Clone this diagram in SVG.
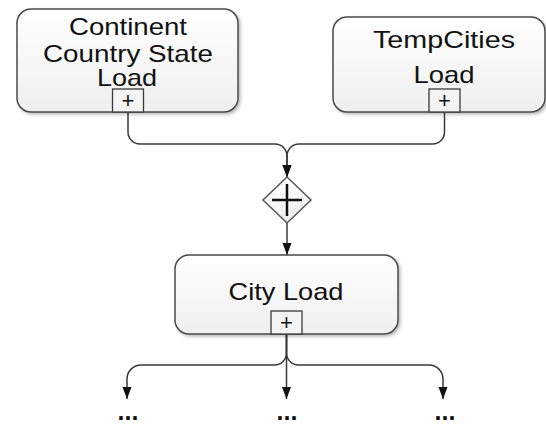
<svg xmlns="http://www.w3.org/2000/svg" width="546" height="425" viewBox="0 0 546 425">
  <style>
    .task { fill: url(#taskFill); stroke: #4a4a4a; stroke-width: 1.5; filter: url(#shadow); }
    .marker { fill: #f4f4f4; stroke: #3a3a3a; stroke-width: 1.3; }
    .label { font-family: "Liberation Sans", Arial, Helvetica, sans-serif; font-size: 24px; fill: #111; text-anchor: middle; }
    .plus { font-family: "Liberation Sans", Arial, sans-serif; font-size: 22px; fill: #111; text-anchor: middle; }
    .dots { font-family: "Liberation Sans", Arial, sans-serif; font-size: 25px; font-weight: bold; fill: #111; text-anchor: middle; }
    .flow { fill: none; stroke: #3a3a3a; stroke-width: 1.5; marker-end: url(#arrow); }
    .gateway { fill: url(#taskFill); stroke: #555; stroke-width: 1.5; }
    .gateway-cross { stroke: #111; stroke-width: 2.5; fill: none; }
  </style>
  <defs>
    <linearGradient id="taskFill" x1="0" y1="0" x2="0" y2="1">
      <stop offset="0" stop-color="#ffffff"/>
      <stop offset="1" stop-color="#efefef"/>
    </linearGradient>
    <filter id="shadow" x="-10%" y="-10%" width="125%" height="130%">
      <feDropShadow dx="2" dy="2" stdDeviation="1.5" flood-color="#000" flood-opacity="0.25"/>
    </filter>
    <marker id="arrow" markerWidth="12" markerHeight="16" refX="16" refY="6" viewBox="0 0 16 12" orient="auto" markerUnits="userSpaceOnUse">
      <path d="M0,0 L16,6 L0,12 Z" fill="#111"/>
    </marker>
  </defs>

  <!-- sequence flows -->
  <g id="connectors">
    <path class="flow" d="M128,112 V132 A12,12 0 0 0 140,144 H275 A12,12 0 0 1 287,156 V177"/>
    <path class="flow" d="M444.5,112 V132 A12,12 0 0 1 432.5,144 H299 A12,12 0 0 0 287,156 V177"/>
    <path class="flow" d="M287,223 V255"/>
    <path class="flow" d="M286.5,334 V353 A12,12 0 0 1 274.5,365 H141 A14,14 0 0 0 127,379 V399"/>
    <path class="flow" d="M286.5,334 V399"/>
    <path class="flow" d="M286.5,334 V353 A12,12 0 0 0 298.5,365 H429 A14,14 0 0 1 443,379 V399"/>
  </g>

  <g id="continent-country-state-load">
    <rect class="task" x="17" y="9" width="221" height="103" rx="14" ry="14"/>
    <text class="label" x="128" y="35" textLength="118" lengthAdjust="spacingAndGlyphs">Continent</text>
    <text class="label" x="128" y="62" textLength="170" lengthAdjust="spacingAndGlyphs">Country State</text>
    <text class="label" x="127" y="86" textLength="60" lengthAdjust="spacingAndGlyphs">Load</text>
    <rect class="marker" x="112.5" y="89" width="31" height="23"/>
    <text class="plus" x="128" y="108">+</text>
  </g>

  <g id="tempcities-load">
    <rect class="task" x="333" y="17" width="212" height="95" rx="14" ry="14"/>
    <text class="label" x="444" y="48" textLength="142" lengthAdjust="spacingAndGlyphs">TempCities</text>
    <text class="label" x="444" y="83" textLength="61" lengthAdjust="spacingAndGlyphs">Load</text>
    <rect class="marker" x="429" y="89" width="31" height="23"/>
    <text class="plus" x="444.5" y="108">+</text>
  </g>

  <g id="parallel-gateway">
    <path class="gateway" d="M287,177 L311,200 L287,223 L263,200 Z"/>
    <path class="gateway-cross" d="M272,200 H302 M287,184 V216"/>
  </g>

  <g id="city-load">
    <rect class="task" x="175" y="255" width="223" height="79" rx="14" ry="14"/>
    <text class="label" x="286" y="300" textLength="115" lengthAdjust="spacingAndGlyphs">City Load</text>
    <rect class="marker" x="271" y="311" width="31" height="23"/>
    <text class="plus" x="286.5" y="330">+</text>
  </g>

  <g id="continuations">
    <text class="dots" x="128" y="419.5">...</text>
    <text class="dots" x="287" y="419.5">...</text>
    <text class="dots" x="445" y="419.5">...</text>
  </g>
</svg>
